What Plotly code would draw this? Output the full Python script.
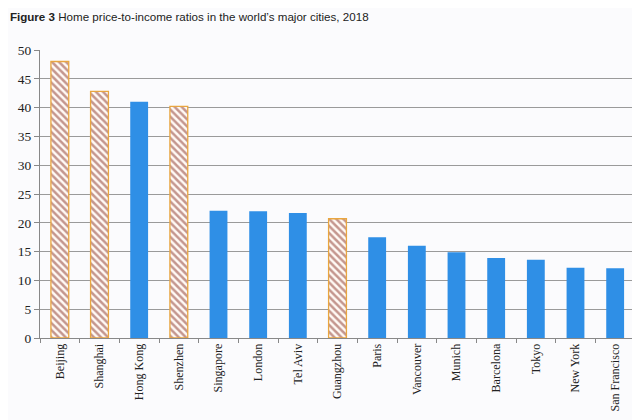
import plotly.graph_objects as go

cities = ["Beijing", "Shanghai", "Hong Kong", "Shenzhen", "Singapore", "London", "Tel Aviv",
          "Guangzhou", "Paris", "Vancouver", "Munich", "Barcelona", "Tokyo", "New York", "San Francisco"]
ratios = [48.0, 42.8, 41.0, 40.2, 22.1, 22.0, 21.7, 20.7, 17.5, 16.0, 14.9, 13.9, 13.6, 12.2, 12.1]
mainland = [True, True, False, True, False, False, False, True, False, False, False, False, False, False, False]

x_main = [c for c, m in zip(cities, mainland) if m]
y_main = [v for v, m in zip(ratios, mainland) if m]
x_other = [c for c, m in zip(cities, mainland) if not m]
y_other = [v for v, m in zip(ratios, mainland) if not m]

fig = go.Figure()
fig.add_trace(go.Bar(
    x=x_other, y=y_other,
    marker=dict(color="#2f8fe6", line=dict(width=0)),
    showlegend=False,
))
fig.add_trace(go.Bar(
    x=x_main, y=y_main,
    marker=dict(color="white", line=dict(color="#e9a640", width=1.3),
                pattern=dict(shape="\\", fgcolor="#8a3228", bgcolor="#fffaf5", size=5, solidity=0.5)),
    showlegend=False,
))

# page body has an 8px default margin, so the figure is sized to fit the 640x420 window
fig.update_layout(
    width=632, height=412,
    margin=dict(l=32, r=5, t=42, b=82),
    paper_bgcolor="#fbfbfd", plot_bgcolor="#fbfbfd",
    barmode="overlay", bargap=0.55,
    title=dict(text="<b>Figure 3</b> Home price-to-income ratios in the world\u2019s major cities, 2018",
               x=0.003, xanchor="left", y=0.978, yanchor="middle",
               font=dict(family="Liberation Sans, Arial", size=11.6, color="#222")),
)
fig.update_xaxes(
    categoryorder="array", categoryarray=cities, automargin=False,
    tickangle=-90, tickfont=dict(family="Liberation Serif, Times New Roman", size=12, color="#222"),
    showline=True, linecolor="#888", linewidth=1,
    ticks="outside", tickson="boundaries", ticklen=4, tickcolor="#888",
    showgrid=False,
)
fig.update_yaxes(
    range=[0, 50], dtick=5, automargin=False,
    tickfont=dict(family="Liberation Serif, Times New Roman", size=13.5, color="#222"),
    showline=True, linecolor="#888", linewidth=1,
    ticks="outside", ticklen=5, tickcolor="#888",
    showgrid=True, gridcolor="#9a9a9a", gridwidth=1,
    zeroline=False,
)

fig.write_html("out.html")
